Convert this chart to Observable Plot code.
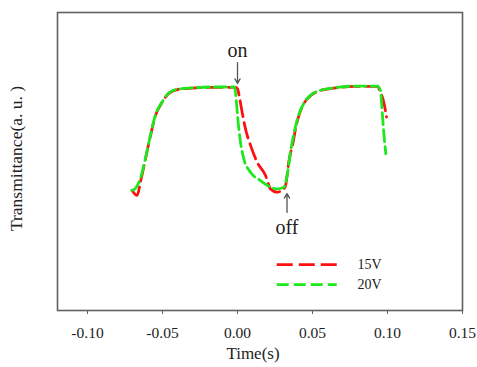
<!DOCTYPE html>
<html>
<head>
<meta charset="utf-8">
<script src="https://cdn.jsdelivr.net/npm/d3@7"></script>
<script src="https://cdn.jsdelivr.net/npm/@observablehq/plot@0.6"></script>
<style>
  html, body { margin: 0; padding: 0; background: #fff; }
  #chart { width: 477px; height: 367px; }
  #chart svg text { font-family: 'Liberation Serif', 'Times New Roman', serif; }
</style>
</head>
<body>
<div id="chart"></div>
<script>
// ---- data ----
const time15 = [-0.0702, -0.0669, -0.0647, -0.0613, -0.058, -0.0547, -0.0502, -0.046, -0.0393, -0.0302, -0.0169, -0.0013,
                0.0000, 0.0015, 0.0031, 0.0053, 0.0087, 0.0131, 0.0187, 0.022, 0.0265, 0.0298, 0.032, 0.0342, 0.0375,
                0.0387, 0.0409, 0.0442, 0.0487, 0.0553, 0.0642, 0.0775, 0.0931,
                0.0953, 0.098, 0.0993];
const trans15 = [0.403, 0.386, 0.431, 0.510, 0.587, 0.654, 0.699, 0.728, 0.742, 0.746, 0.749, 0.749,
                 0.744, 0.710, 0.665, 0.610, 0.554, 0.498, 0.453, 0.408, 0.397, 0.403, 0.419, 0.498, 0.576,
                 0.610, 0.654, 0.694, 0.721, 0.738, 0.746, 0.752, 0.752,
                 0.733, 0.688, 0.649];
const time20 = [-0.0705, -0.0680, -0.0650, -0.0613, -0.058, -0.0547, -0.0502, -0.046, -0.0393, -0.0302, -0.0169, -0.0020,
                -0.0007, 0.0002, 0.002, 0.0042, 0.0087, 0.0153, 0.022, 0.0265, 0.0309, 0.0331, 0.0353,
                0.0387, 0.0409, 0.0442, 0.0487, 0.0553, 0.0642, 0.0775, 0.0931,
                0.0953, 0.0965, 0.0975, 0.0989];
const trans20 = [0.403, 0.410, 0.440, 0.512, 0.589, 0.656, 0.700, 0.729, 0.743, 0.747, 0.750, 0.750,
                 0.699, 0.644, 0.565, 0.509, 0.464, 0.436, 0.414, 0.408, 0.414, 0.453, 0.531,
                 0.618, 0.658, 0.695, 0.722, 0.739, 0.747, 0.753, 0.753,
                 0.738, 0.665, 0.598, 0.526];
const seriesNames = ["15V", "20V"];
const seriesColors = ["#ff1010", "#1de81d"];
const xTicks = [-0.10, -0.05, 0.00, 0.05, 0.10, 0.15];
const xTickLabels = ["-0.10", "-0.05", "0.00", "0.05", "0.10", "0.15"];
const xLabel = "Time(s)";
const yLabel = "Transmittance(a. u. )";
const annotations = [
  {label: "on",  x: 0.000, textY: 0.872, from: 0.832, to: 0.762},
  {label: "off", x: 0.033, textY: 0.279, from: 0.329, to: 0.392}
];
// legend placement (data coordinates inside the frame)
const legendX = [0.0265, 0.0665, 0.0800];
const legendY = [0.154, 0.087];

const data15 = time15.map((t, i) => ({t, v: trans15[i]}));
const data20 = time20.map((t, i) => ({t, v: trans20[i]}));
const dashes = ["16,6", "12,5"];
const seriesData = [data15, data20];

const font = "'Liberation Serif', 'Times New Roman', serif";

const legendMarks = seriesNames.flatMap((name, i) => [
  Plot.ruleY([legendY[i]], {x1: legendX[0], x2: legendX[1], stroke: seriesColors[i], strokeWidth: 2.8, strokeDasharray: dashes[i]}),
  Plot.text([name], {x: legendX[2], y: legendY[i], text: d => d, textAnchor: "start", fontSize: 14, fill: "#222"})
]);

const chart = Plot.plot({
  width: 477,
  height: 367,
  marginLeft: 57,
  marginRight: 15,
  marginTop: 12,
  marginBottom: 57,
  style: {fontFamily: font, background: "#fff"},
  x: {domain: [-0.12, 0.15]},
  y: {domain: [0, 1]},
  marks: [
    Plot.frame({stroke: "#606060", strokeWidth: 1.6}),
    Plot.axisX({
      ticks: xTicks,
      tickFormat: d => xTickLabels[xTicks.indexOf(d)],
      tickSize: 4,
      stroke: "#606060",
      tickPadding: 12,
      fontSize: 15.5,
      fill: "#222",
      label: null
    }),
    Plot.axisY({ticks: [], label: null}),
    Plot.text([xLabel], {frameAnchor: "bottom", text: d => d, dx: -7, dy: 48, fontSize: 17, fill: "#222"}),
    Plot.text([yLabel], {frameAnchor: "left", text: d => d, textAnchor: "middle", rotate: -90, dx: -41, dy: -3, fontSize: 17.5, fill: "#222"}),
    ...seriesData.map((d, i) => Plot.line(d, {x: "t", y: "v", curve: "monotone-x", stroke: seriesColors[i], strokeWidth: 2.8, strokeDasharray: dashes[i]})),
    Plot.arrow(annotations, {x1: "x", x2: "x", y1: "from", y2: "to", stroke: "#555", strokeWidth: 1.3, headLength: 6}),
    Plot.text(annotations, {x: "x", y: "textY", text: "label", fontSize: 20, fill: "#222"}),
    ...legendMarks
  ]
});
document.getElementById("chart").appendChild(chart);
</script>
</body>
</html>
